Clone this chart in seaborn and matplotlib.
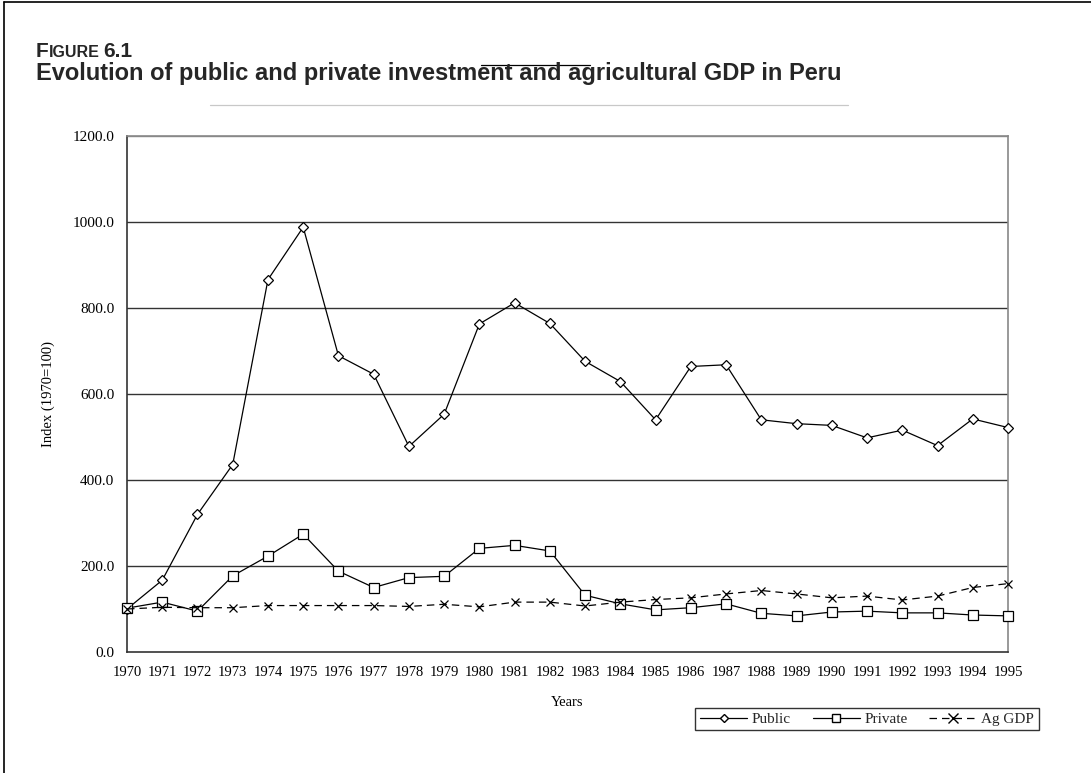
import matplotlib
matplotlib.use("Agg")
import matplotlib.pyplot as plt
import seaborn as sns
import pandas as pd
from matplotlib.lines import Line2D

years = list(range(1970, 1996))
public = [100, 167, 320, 436, 866, 988, 689, 646, 478, 553, 763, 812, 764, 676,
          629, 540, 664, 668, 540, 531, 527, 498, 516, 480, 542, 522]
private = [102, 116, 95, 177, 223, 274, 188, 150, 173, 176, 241, 248, 235, 132,
           112, 98, 103, 112, 90, 84, 93, 95, 91, 91, 86, 84]
ag_gdp = [100, 104, 103, 103, 108, 108, 108, 108, 106, 111, 105, 116, 116, 107,
          116, 122, 126, 135, 143, 135, 126, 130, 121, 130, 150, 159]
y_ticks = [0, 200, 400, 600, 800, 1000, 1200]
series_names = ["Public", "Private", "Ag GDP"]

df = pd.DataFrame({"Year": years, "Public": public, "Private": private, "Ag GDP": ag_gdp})

sns.set_theme(style="white")
serif = ["Liberation Serif", "DejaVu Serif"]
sans = ["Liberation Sans", "DejaVu Sans"]
plt.rcParams["font.family"] = serif

W, H = 1091, 773
fig = plt.figure(figsize=(W / 100, H / 100), dpi=100)
L, R, T, B = 127, 1008, 136, 652
ax = fig.add_axes([L / W, 1 - B / H, (R - L) / W, (B - T) / H])

styles = {
    "Public": dict(marker="D", markersize=5, linestyle="-"),
    "Private": dict(marker="s", markersize=7.5, linestyle="-"),
    "Ag GDP": dict(marker="x", markersize=5.5, linestyle=(0, (6, 4))),
}
for name in series_names:
    st = styles[name]
    sns.lineplot(data=df, x="Year", y=name, ax=ax, color="black", linewidth=0.9,
                 marker=st["marker"], markersize=st["markersize"],
                 markerfacecolor="white", markeredgecolor="black", markeredgewidth=0.9,
                 linestyle=st["linestyle"], clip_on=False, zorder=3, label=name)

ax.set_xlim(1970, 1995)
ax.set_ylim(0, 1200)
ax.set_xticks(years)
ax.set_xticklabels([str(y) for y in years], fontsize=10.5, family=serif)
ax.set_yticks(y_ticks)
ax.set_yticklabels([f"{v:.1f}" for v in y_ticks], fontsize=11, family=serif)
for v in y_ticks[1:]:
    ax.axhline(v, color="#333333" if v < 1200 else "#888888", linewidth=1.0, zorder=1)

ax.tick_params(axis="x", direction="inout", length=8, width=0.9, color="#333333", pad=6,
               labelcolor="black")
ax.tick_params(axis="y", direction="out", length=5, width=0.9, color="#333333", pad=4,
               labelcolor="black")
for s in ["left", "bottom"]:
    ax.spines[s].set_color("#333333")
    ax.spines[s].set_linewidth(1.2)
for s in ["top", "right"]:
    ax.spines[s].set_color("#888888")
    ax.spines[s].set_linewidth(1.2)

ax.set_xlabel("Years", fontsize=10.5, family=serif, labelpad=12, color="black")
ax.set_ylabel("Index (1970=100)", fontsize=10.5, family=serif, labelpad=0, color="black")
ax.yaxis.set_label_coords((55 - L) / (R - L), 0.5)

handles = [Line2D([], [], color="black", linewidth=0.9, linestyle=styles[n]["linestyle"],
                  marker=styles[n]["marker"],
                  markersize=styles[n]["markersize"] * (0.8 if n != "Ag GDP" else 1.2),
                  markerfacecolor="white", markeredgecolor="black") for n in series_names]
if ax.get_legend():
    ax.get_legend().remove()
leg = fig.legend(handles, series_names, loc="center", bbox_to_anchor=(867 / W, 1 - 719 / H),
                 ncol=3, frameon=True, fancybox=False, edgecolor="black",
                 prop={"family": serif, "size": 11}, handlelength=3.1, columnspacing=1.4,
                 borderpad=0.3, handletextpad=0.3, borderaxespad=0)
leg.get_frame().set_linewidth(1.0)

# Title block
t1 = fig.text(36 / W, 1 - 57 / H, "F", fontsize=15, fontweight="bold", family=sans,
              va="baseline", ha="left")
fig.canvas.draw()
r = fig.canvas.get_renderer()
bb = t1.get_window_extent(r)
t2 = fig.text(bb.x1 / W, 1 - 57 / H, "IGURE", fontsize=11.5, fontweight="bold", family=sans,
              va="baseline", ha="left")
bb2 = t2.get_window_extent(r)
fig.text(bb2.x1 / W + 4 / W, 1 - 57 / H, "6.1", fontsize=15, fontweight="bold", family=sans,
         va="baseline", ha="left")
fig.text(36 / W, 1 - 80 / H,
         "Evolution of public and private investment and agricultural GDP in Peru",
         fontsize=17, fontweight="bold", family=sans, va="baseline", ha="left")

# decorative lines
fig.add_artist(Line2D([481 / W, 590 / W], [1 - 65 / H, 1 - 65 / H],
                      color="black", linewidth=0.9, transform=fig.transFigure))
fig.add_artist(Line2D([210 / W, 848 / W], [1 - 105 / H, 1 - 105 / H],
                      color="#c8c8c8", linewidth=0.9, transform=fig.transFigure))
fig.add_artist(Line2D([4 / W, 4 / W], [0, 1 - 2 / H],
                      color="black", linewidth=1.2, transform=fig.transFigure))
fig.add_artist(Line2D([4 / W, 1], [1 - 2 / H, 1 - 2 / H],
                      color="black", linewidth=1.2, transform=fig.transFigure))

fig.savefig("out.png", dpi=100, facecolor="white")
